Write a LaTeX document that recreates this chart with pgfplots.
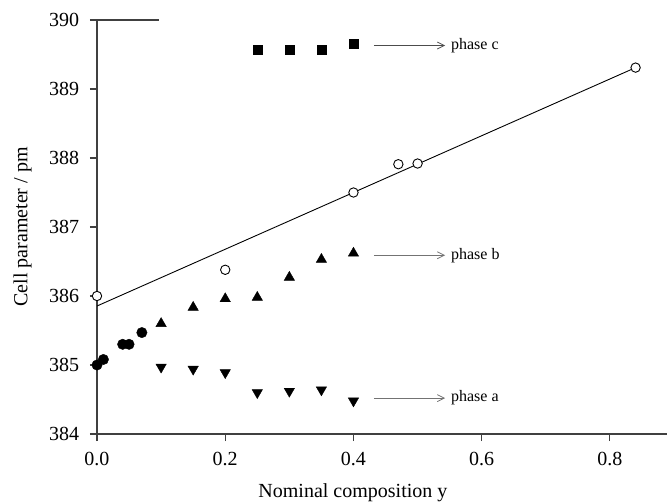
\documentclass[border=0pt]{standalone}
\usepackage{fontspec}
\setmainfont{Liberation Serif}
\usepackage{pgfplots}
\pgfplotsset{compat=1.18}
\usetikzlibrary{arrows.meta}
\begin{document}
\fontsize{20}{24}\selectfont
\begin{tikzpicture}
\path[use as bounding box] (-97pt,-67pt) rectangle (570pt,434pt);
\begin{axis}[
  at={(0,0)}, anchor=south west,
  scale only axis, width=570pt, height=414pt,
  xmin=0, xmax=0.889, ymin=384, ymax=390,
  axis x line*=bottom, axis y line*=left,
  axis line style={black!75, line width=1.1pt},
  tick style={black!75, line width=1.1pt},
  tick align=outside, major tick length=7pt,
  xtick={0,0.2,0.4,0.6,0.8}, ytick={384,385,386,387,388,389,390},
  xticklabel style={/pgf/number format/.cd, fixed, fixed zerofill, precision=1, /tikz/.cd, yshift=-4pt},
  yticklabel style={xshift=-4pt},
  /pgf/number format/assume math mode=true,
  ticklabel style={font=\fontsize{20}{24}\selectfont},
  label style={font=\fontsize{20}{24}\selectfont},
  xlabel={Nominal composition y},
  ylabel={Cell parameter / pm},
  xlabel style={at={(ticklabel cs:0.449)}, yshift=-5pt},
  ylabel style={yshift=4pt},
  clip=false,
]
\draw[black!75, line width=1.1pt] (axis cs:0,390) -- (axis cs:0.097,390);
\addplot[black, line width=0.9pt, no marks] coordinates {(0,385.855) (0.84,389.31)};
% filled circles
\addplot[only marks, mark=*, mark size=5.2pt, black] coordinates {
(0,385.0) (0.01,385.08) (0.04,385.30) (0.05,385.30) (0.07,385.47)};
% open circles
\addplot[only marks, mark=*, mark size=4.7pt, mark options={fill=white, draw=black, line width=0.9pt}] coordinates {
(0,386.0) (0.2,386.38) (0.4,387.50) (0.47,387.91) (0.5,387.92) (0.84,389.31)};
% phase b (up triangles)
\addplot[only marks, mark=triangle*, mark size=6pt, black] coordinates {
(0.1,385.60) (0.15,385.835) (0.2,385.96) (0.25,385.98) (0.3,386.27) (0.35,386.53) (0.4,386.62)};
% phase a (down triangles)
\addplot[only marks, mark=triangle*, mark size=6pt, mark options={rotate=180}, black] coordinates {
(0.1,384.97) (0.15,384.94) (0.2,384.89) (0.25,384.60) (0.3,384.62) (0.35,384.64) (0.4,384.48)};
% phase c (squares)
\addplot[only marks, mark=square*, mark size=4.5pt, black] coordinates {
(0.25,389.575) (0.3,389.575) (0.35,389.575) (0.4,389.65)};
% annotations
\draw[black!70, line width=0.8pt, -{Straight Barb[length=7pt,width=7pt]}] (axis cs:0.432,389.63) -- (axis cs:0.543,389.63);
\node[anchor=west, font=\fontsize{16}{19}\selectfont, inner sep=0pt] at (axis cs:0.552,389.63) {phase c};
\draw[black!55, line width=0.8pt, -{Straight Barb[length=7pt,width=7pt]}] (axis cs:0.432,386.59) -- (axis cs:0.543,386.59);
\node[anchor=west, font=\fontsize{16}{19}\selectfont, inner sep=0pt] at (axis cs:0.552,386.59) {phase b};
\draw[black!55, line width=0.8pt, -{Straight Barb[length=7pt,width=7pt]}] (axis cs:0.432,384.52) -- (axis cs:0.543,384.52);
\node[anchor=west, font=\fontsize{16}{19}\selectfont, inner sep=0pt] at (axis cs:0.552,384.52) {phase a};
\end{axis}
\end{tikzpicture}
\end{document}
